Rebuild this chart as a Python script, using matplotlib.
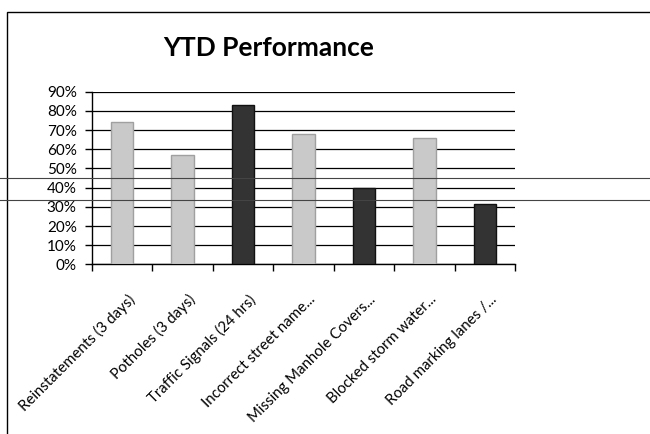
import numpy as np
import matplotlib.pyplot as plt
import matplotlib.transforms as mtransforms
from matplotlib.lines import Line2D
from matplotlib.patches import Rectangle

categories = ["Reinstatements (3 days)", "Potholes (3 days)", "Traffic Signals (24 hrs)",
              "Incorrect street name...", "Missing Manhole Covers...", "Blocked storm water...",
              "Road marking lanes /..."]
values = [74, 57, 83, 68, 40, 66, 31.5]
dark = [False, False, True, False, True, False, True]
yticks = [0, 10, 20, 30, 40, 50, 60, 70, 80, 90]

plt.rcParams['font.family'] = ['Lato', 'DejaVu Sans']

fig = plt.figure(figsize=(6.5, 4.34), dpi=100)
ax = fig.add_axes([0.1415, 0.3906, 0.651, 0.3981])

x = np.arange(len(categories))
cols = ['#333333' if d else '#c9c9c9' for d in dark]
edges = ['#111111' if d else '#a0a0a0' for d in dark]
ax.bar(x, values, width=0.37, color=cols, edgecolor=edges, linewidth=1, zorder=3)

ax.set_xlim(-0.5, len(categories) - 0.5)
ax.set_ylim(0, 90)
ax.set_yticks(yticks)
ax.set_yticklabels([f"{v}%" for v in yticks], fontsize=11)
ax.yaxis.grid(True, color='black', linewidth=0.9)
ax.set_axisbelow(True)

ax.set_xticks(x)
ax.set_xticklabels(categories, rotation=45, ha='right', rotation_mode='anchor', fontsize=10.8)
ax.set_xticks(np.arange(len(categories) + 1) - 0.5, minor=True)
ax.tick_params(axis='x', which='major', length=0, pad=20)
ax.tick_params(axis='x', which='minor', length=5, width=1, direction='out')
ax.tick_params(axis='y', length=5, width=1, pad=6)
shift = mtransforms.ScaledTranslation(5 / 100, 0, fig.dpi_scale_trans)
for lab in ax.get_xticklabels():
    lab.set_transform(lab.get_transform() + shift)

for s in ['top', 'right']:
    ax.spines[s].set_visible(False)
ax.spines['left'].set_linewidth(1)
ax.spines['bottom'].set_linewidth(1)

fig.text(0.413, 0.889, "YTD Performance", ha='center', va='center', fontsize=19, fontweight='bold')

# chart frame
fig.patches.append(Rectangle((7 / 650, -0.05), 1.2, 1 - 12 / 434 + 0.05, transform=fig.transFigure,
                             fill=False, edgecolor='black', linewidth=1))

# scan lines across the page
for yy in [178, 200]:
    fig.lines.append(Line2D([0, 1], [1 - yy / 434, 1 - yy / 434], transform=fig.transFigure,
                            color='#444444', linewidth=0.8))

fig.savefig("out.png", dpi=100)
